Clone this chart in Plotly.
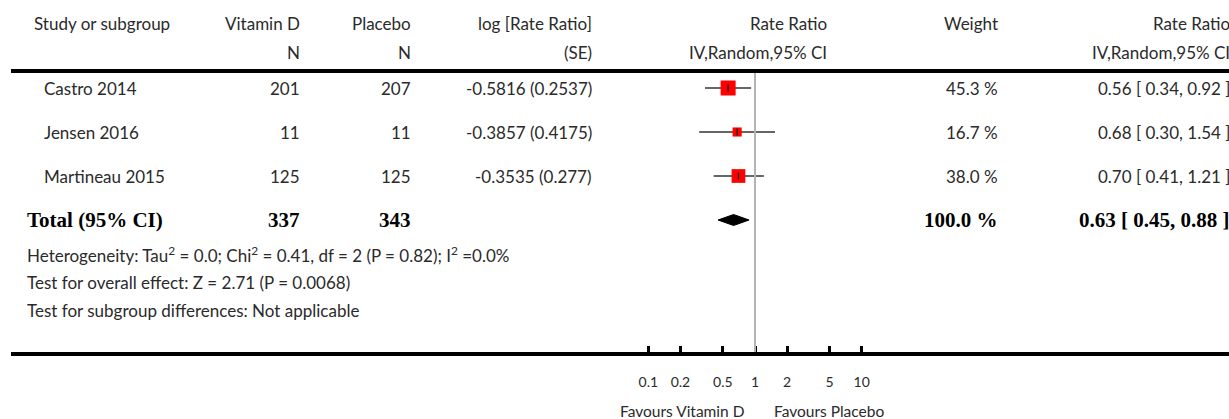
import plotly.graph_objects as go
import math

# ---------------- data ----------------
studies = ["Castro 2014", "Jensen 2016", "Martineau 2015"]
n_vitd = [201, 11, 125]
n_plac = [207, 11, 125]
log_rr = ["-0.5816 (0.2537)", "-0.3857 (0.4175)", "-0.3535 (0.277)"]
weights = [45.3, 16.7, 38.0]
rr = [0.56, 0.68, 0.70]
rr_lo = [0.34, 0.30, 0.41]
rr_hi = [0.92, 1.54, 1.21]

total_label = "Total (95% CI)"
total_vitd = 337
total_plac = 343
total_weight = 100.0
total_rr = 0.63
total_lo = 0.45
total_hi = 0.88

heterogeneity = "Heterogeneity: Tau<sup>2</sup> = 0.0; Chi<sup>2</sup> = 0.41, df = 2 (P = 0.82); I<sup>2</sup> =0.0%"
overall = "Test for overall effect: Z = 2.71 (P = 0.0068)"
subgroup = "Test for subgroup differences: Not applicable"

tick_vals = [0.1, 0.2, 0.5, 1, 2, 5, 10]
tick_text = ["0.1", "0.2", "0.5", "1", "2", "5", "10"]
fav_left = "Favours Vitamin D"
fav_right = "Favours Placebo"

# ---------------- layout constants ----------------
W, H = 1229, 419
FONT = "Lato"
TXT = "#2a2a2a"
FS = 17
x_one_px = 755.0      # pixel of ratio 1
decade_px = 106.7     # pixels per decade
row_y0 = 88           # first study row
row_dy = 44

def px(x):
    return x / W

col_name = 42
col_vitd = 302
col_plac = 413
col_log = 594
col_plot = 829
col_w = 1000
col_rr = 1232

fig = go.Figure()

ann = []
def text(x, y, s, anchor="left", size=FS, family=FONT, color=TXT):
    ann.append(dict(x=px(x), y=y, xref="paper", yref="y", text=s, showarrow=False,
                    xanchor=anchor, yanchor="middle",
                    font=dict(family=family, size=size, color=color)))

# headers
hy1, hy2 = 23, 52
text(32, hy1, "Study or subgroup")
text(col_vitd, hy1, "Vitamin D", "right")
text(col_vitd, hy2, "N", "right")
text(col_plac, hy1, "Placebo", "right")
text(col_plac, hy2, "N", "right")
text(col_log, hy1, "log [Rate Ratio]", "right")
text(col_log, hy2, "(SE)", "right")
text(col_plot, hy1, "Rate Ratio", "right")
text(col_plot, hy2, "IV,Random,95% CI", "right")
text(col_w, hy1, "Weight", "right")
text(col_rr, hy1, "Rate Ratio", "right")
text(col_rr, hy2, "IV,Random,95% CI", "right")

ys = [row_y0 + i * row_dy for i in range(len(studies))]
for i, s in enumerate(studies):
    y = ys[i]
    text(col_name, y, s)
    text(col_vitd, y, str(n_vitd[i]), "right")
    text(col_plac, y, str(n_plac[i]), "right")
    text(col_log, y, log_rr[i], "right")
    text(col_w, y, f"{weights[i]:.1f} %", "right")
    text(col_rr, y, f"{rr[i]:.2f} [ {rr_lo[i]:.2f}, {rr_hi[i]:.2f} ]", "right")

ty = row_y0 + 3 * row_dy
BOLD = dict(family="Liberation Serif", size=21, color="#000000")
text(25, ty, f"<b>{total_label}</b>", "left", **BOLD)
text(col_vitd, ty, f"<b>{total_vitd}</b>", "right", **BOLD)
text(col_plac, ty, f"<b>{total_plac}</b>", "right", **BOLD)
text(col_w, ty, f"<b>{total_weight:.1f} %</b>", "right", **BOLD)
text(col_rr, ty, f"<b>{total_rr:.2f} [ {total_lo:.2f}, {total_hi:.2f} ]</b>", "right", **BOLD)

text(25, 254, heterogeneity)
text(25, 282, overall)
text(25, 310, subgroup)

text(747, 411, fav_left, "right", size=15.5)
text(772, 411, fav_right, "left", size=15.5)

# CI lines
lx, ly = [], []
for i in range(len(studies)):
    lx += [rr_lo[i], rr_hi[i], None]
    ly += [ys[i], ys[i], None]
fig.add_trace(go.Scatter(x=lx, y=ly, mode="lines", line=dict(color="#333333", width=1.6),
                         hoverinfo="skip", showlegend=False))
# squares
sizes = [15 * math.sqrt(w / max(weights)) for w in weights]
fig.add_trace(go.Scatter(x=rr, y=ys, mode="markers",
                         marker=dict(symbol="square", size=sizes, color="#ff0000",
                                     opacity=1, line=dict(width=0)),
                         showlegend=False))
# estimate ticks
fig.add_trace(go.Scatter(x=rr, y=ys, mode="markers",
                         marker=dict(symbol="line-ns", size=5,
                                     line=dict(width=1.4, color="#222222")),
                         showlegend=False, hoverinfo="skip"))
# diamond
dh = 5.5
fig.add_trace(go.Scatter(x=[total_lo, total_rr, total_hi, total_rr, total_lo],
                         y=[ty, ty - dh, ty, ty + dh, ty], mode="lines", fill="toself",
                         fillcolor="#000000", line=dict(color="#000000", width=1),
                         showlegend=False, hoverinfo="skip"))

shapes = [
    dict(type="line", xref="paper", yref="y", x0=px(11), x1=1, y0=71, y1=71,
         line=dict(color="#000000", width=4)),
    dict(type="line", xref="paper", yref="y", x0=px(11), x1=1, y0=354, y1=354,
         line=dict(color="#000000", width=4)),
    dict(type="line", xref="x", yref="y", x0=1, x1=1, y0=73, y1=352,
         line=dict(color="#b4b4b4", width=2)),
]

lo_log = -x_one_px / decade_px
hi_log = (W - x_one_px) / decade_px

fig.update_layout(
    width=W, height=H, margin=dict(l=0, r=0, t=0, b=0),
    paper_bgcolor="white", plot_bgcolor="white",
    annotations=ann, shapes=shapes, showlegend=False,
    xaxis=dict(type="log", range=[lo_log, hi_log], domain=[0, 1],
               tickvals=tick_vals, ticktext=tick_text, ticks="inside", ticklen=6,
               tickwidth=2.5, tickcolor="#000000", showgrid=False, zeroline=False,
               showline=False, anchor="free", position=1 - 352 / H,
               tickfont=dict(family=FONT, size=14, color=TXT), ticklabelstandoff=20),
    yaxis=dict(range=[H, 0], domain=[0, 1], visible=False, showgrid=False),
)

fig.write_html("out.html", config={"displayModeBar": False},
               post_script="document.body.style.margin='0';document.body.style.overflow='hidden';")
